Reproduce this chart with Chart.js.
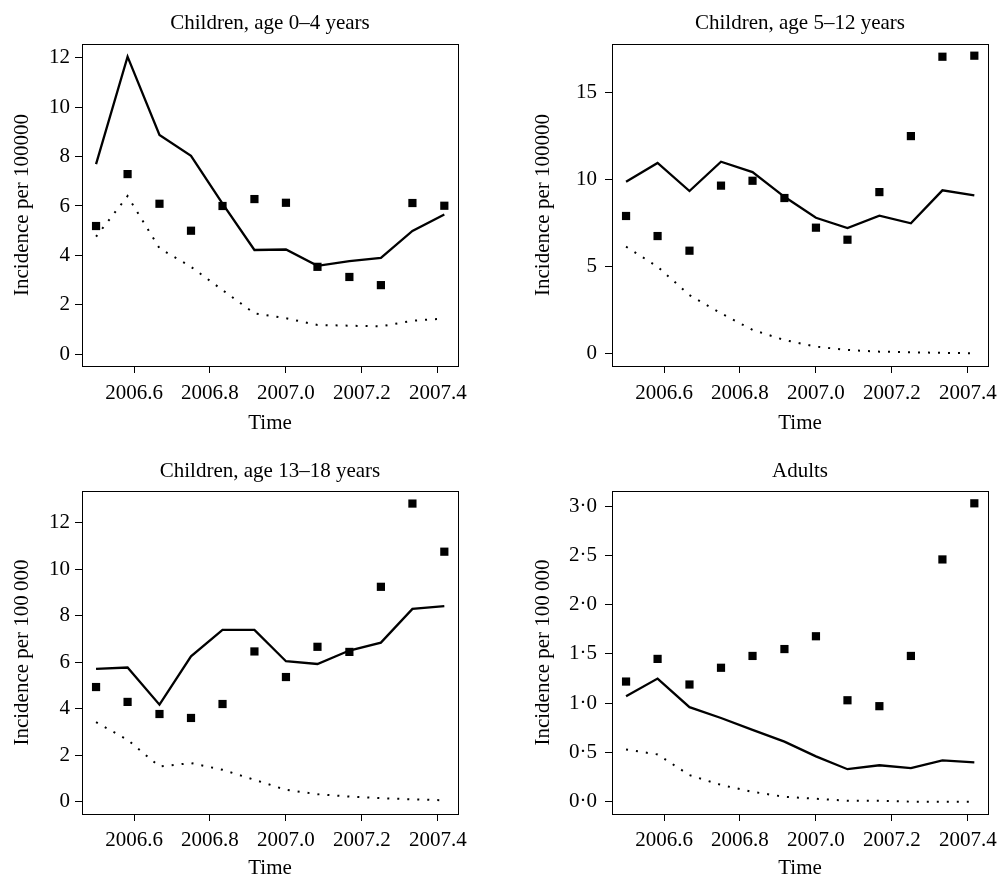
<!DOCTYPE html>
<html>
<head>
<meta charset="utf-8">
<script src="https://cdn.jsdelivr.net/npm/chart.js@4.4.1/dist/chart.umd.min.js"></script>
<style>
    body { margin: 0; background: #fff; overflow: hidden; }
    #page { position: relative; width: 999px; height: 878px; overflow: hidden; }
    canvas { position: absolute; }
</style>
</head>
<body>
<div id="page">
    <canvas id="c1" width="499" height="438" style="left:0px;top:0px"></canvas>
    <canvas id="c2" width="530" height="438" style="left:499px;top:0px"></canvas>
    <canvas id="c3" width="499" height="440" style="left:0px;top:438px"></canvas>
    <canvas id="c4" width="530" height="440" style="left:499px;top:438px"></canvas>
</div>
<script>
"use strict"

//Monthly time points (decimal years)
const times = [2006.5, 2006.583, 2006.667, 2006.75, 2006.833, 2006.917,
               2007.0, 2007.083, 2007.167, 2007.25, 2007.333, 2007.417];

//Shared x ticks
const xTicks = [2006.6, 2006.8, 2007.0, 2007.2, 2007.4];
const xLabels = ['2006.6', '2006.8', '2007.0', '2007.2', '2007.4'];

//Children 0-4
const obs04 = [5.19, 7.29, 6.09, 5.0, 6.0, 6.28, 6.13, 3.54, 3.13, 2.8, 6.12, 6.01];
const fit04 = [7.69, 12.04, 8.87, 8.03, 6.1, 4.22, 4.24, 3.58, 3.77, 3.9, 4.99, 5.66];
const dot04 = [4.76, 6.4, 4.29, 3.54, 2.6, 1.66, 1.46, 1.19, 1.16, 1.13, 1.36, 1.45];
const yTicks04 = [0, 2, 4, 6, 8, 10, 12];
const yLabels04 = ['0', '2', '4', '6', '8', '10', '12'];

//Children 5-12
const obs512 = [7.91, 6.76, 5.92, 9.65, 9.93, 8.94, 7.24, 6.55, 9.28, 12.49, 17.04, 17.1];
const fit512 = [9.87, 10.95, 9.34, 11.02, 10.43, 9.01, 7.81, 7.22, 7.93, 7.49, 9.38, 9.09];
const dot512 = [6.15, 5.0, 3.38, 2.33, 1.38, 0.80, 0.42, 0.23, 0.13, 0.10, 0.06, 0.04];
const yTicks512 = [0, 5, 10, 15];
const yLabels512 = ['0', '5', '10', '15'];

//Children 13-18
const obs1318 = [4.94, 4.30, 3.78, 3.61, 4.21, 6.47, 5.37, 6.67, 6.45, 9.25, 12.83, 10.76];
const fit1318 = [5.72, 5.78, 4.18, 6.26, 7.40, 7.40, 6.05, 5.93, 6.51, 6.85, 8.30, 8.42];
const dot1318 = [3.43, 2.67, 1.52, 1.67, 1.38, 0.95, 0.52, 0.33, 0.23, 0.16, 0.11, 0.07];
const yTicks1318 = [0, 2, 4, 6, 8, 10, 12];
const yLabels1318 = ['0', '2', '4', '6', '8', '10', '12'];

//Adults
const obsAdult = [1.22, 1.45, 1.19, 1.36, 1.48, 1.55, 1.68, 1.03, 0.97, 1.48, 2.46, 3.03];
const fitAdult = [1.07, 1.25, 0.96, 0.85, 0.73, 0.61, 0.46, 0.33, 0.37, 0.34, 0.42, 0.40];
const dotAdult = [0.53, 0.48, 0.27, 0.17, 0.10, 0.05, 0.03, 0.01, 0.01, 0.0, 0.0, 0.0];
const yTicksAdult = [0, 0.5, 1, 1.5, 2, 2.5, 3];
const yLabelsAdult = ['0·0', '0·5', '1·0', '1·5', '2·0', '2·5', '3·0'];


const FONT = "'Liberation Serif', 'DejaVu Serif', serif";
const FS = 21;


//Draws the full box round the plot area
const boxPlugin = {
    id: 'box',
    afterDatasetsDraw(chart) {
        const a = chart.chartArea;
        const ctx = chart.ctx;
        ctx.save();
        ctx.strokeStyle = '#000';
        ctx.lineWidth = 1;
        ctx.strokeRect(Math.round(a.left) + 0.5, Math.round(a.top) + 0.5,
                       Math.round(a.right - a.left), Math.round(a.bottom - a.top));
        ctx.restore();
    }
};


function toPoints(vals) {
    return times.map((t, i) => ({ x: t, y: vals[i] }));
}


//Builds one panel
function MakePanel(canvasId, p) {

    const canvas = document.getElementById(canvasId);
    const W = canvas.width, H = canvas.height;

    const datasets = [
        {
            label: 'Observed',
            data: toPoints(p.obs),
            showLine: false,
            pointStyle: 'rect',
            pointRadius: 5.8,
            pointBackgroundColor: '#000',
            pointBorderWidth: 0
        },
        {
            label: 'Model',
            data: toPoints(p.fit),
            showLine: true,
            borderColor: '#000',
            borderWidth: 2.3,
            pointRadius: 0
        },
        {
            label: 'Component',
            data: toPoints(p.dot),
            showLine: true,
            borderColor: '#000',
            borderWidth: 2,
            borderDash: [2, 8],
            borderCapStyle: 'butt',
            pointRadius: 0
        }
    ];

    const tickGrid = { display: true, drawOnChartArea: false, drawTicks: true, tickLength: 7, color: '#000', lineWidth: 1 };

    const config = {
        type: 'scatter',
        data: { datasets: datasets },
        plugins: [boxPlugin],
        options: {
            responsive: false,
            animation: false,
            devicePixelRatio: 1,
            layout: { padding: { left: 0, right: W - p.right, top: 0, bottom: 0 } },
            plugins: {
                legend: { display: false },
                tooltip: { enabled: false }
            },
            scales: {
                x: {
                    type: 'linear',
                    min: 2006.463,
                    max: 2007.453,
                    afterFit: (s) => { s.height = H - p.bottom; },
                    afterBuildTicks: (s) => { s.ticks = xTicks.map(v => ({ value: v })); },
                    border: { display: false },
                    grid: tickGrid,
                    ticks: {
                        autoSkip: false,
                        maxRotation: 0,
                        padding: p.xPad,
                        color: '#000',
                        font: { family: FONT, size: FS },
                        callback: (v, i) => xLabels[i]
                    },
                    title: {
                        display: true,
                        text: 'Time',
                        color: '#000',
                        font: { family: FONT, size: FS, lineHeight: 1 },
                        padding: { top: 0, bottom: H - p.xTitleY - FS / 2 }
                    }
                },
                //panel title, centred over the plot box
                top: {
                    type: 'linear',
                    position: 'top',
                    afterFit: (s) => { s.height = p.top; },
                    border: { display: false },
                    grid: { display: false, drawTicks: false },
                    ticks: { display: false },
                    title: {
                        display: true,
                        text: p.title,
                        color: '#000',
                        font: { family: FONT, size: FS, lineHeight: 1 },
                        padding: { top: p.titleY - FS / 2, bottom: 0 }
                    }
                },
                y: {
                    type: 'linear',
                    min: p.yMin,
                    max: p.yMax,
                    afterFit: (s) => { s.width = p.left; },
                    afterBuildTicks: (s) => { s.ticks = p.yTicks.map(v => ({ value: v })); },
                    border: { display: false },
                    grid: tickGrid,
                    ticks: {
                        autoSkip: false,
                        padding: p.yPad,
                        color: '#000',
                        font: { family: FONT, size: FS },
                        callback: (v, i) => p.yLabels[i]
                    },
                    title: {
                        display: true,
                        text: p.yTitle,
                        color: '#000',
                        font: { family: FONT, size: FS, lineHeight: 1 },
                        padding: { top: p.yTitleX - FS / 2, bottom: 0 }
                    }
                }
            }
        }
    };

    return new Chart(canvas, config);
}


MakePanel('c1', {
    title: 'Children, age 0–4 years', yTitle: 'Incidence per 100000',
    obs: obs04, fit: fit04, dot: dot04, yTicks: yTicks04, yLabels: yLabels04,
    yMin: -0.47, yMax: 12.55,
    left: 82, right: 458, top: 44, bottom: 366,
    titleY: 23, xTitleY: 423, yTitleX: 22, xPad: 8, yPad: 5
});

MakePanel('c2', {
    title: 'Children, age 5–12 years', yTitle: 'Incidence per 100000',
    obs: obs512, fit: fit512, dot: dot512, yTicks: yTicks512, yLabels: yLabels512,
    yMin: -0.69, yMax: 17.77,
    left: 113, right: 489, top: 44, bottom: 366,
    titleY: 23, xTitleY: 423, yTitleX: 44, xPad: 8, yPad: 8
});

MakePanel('c3', {
    title: 'Children, age 13–18 years', yTitle: 'Incidence per 100\u2009000',
    obs: obs1318, fit: fit1318, dot: dot1318, yTicks: yTicks1318, yLabels: yLabels1318,
    yMin: -0.52, yMax: 13.37,
    left: 82, right: 458, top: 53, bottom: 376,
    titleY: 33, xTitleY: 430, yTitleX: 22, xPad: 7, yPad: 5
});

MakePanel('c4', {
    title: 'Adults', yTitle: 'Incidence per 100\u2009000',
    obs: obsAdult, fit: fitAdult, dot: dotAdult, yTicks: yTicksAdult, yLabels: yLabelsAdult,
    yMin: -0.125, yMax: 3.155,
    left: 113, right: 489, top: 53, bottom: 376,
    titleY: 33, xTitleY: 430, yTitleX: 44, xPad: 7, yPad: 8
});
</script>
</body>
</html>
